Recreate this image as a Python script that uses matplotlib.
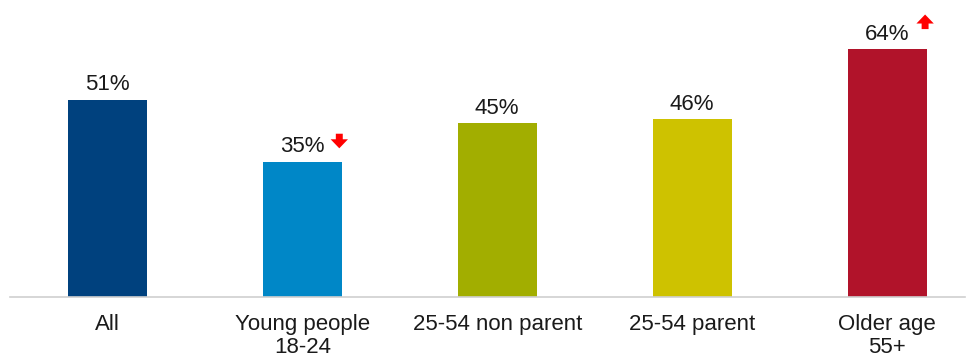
import matplotlib
matplotlib.use("Agg")
from matplotlib import pyplot as plt
from matplotlib import transforms

categories = ["All", "Young people\n18-24", "25-54 non parent", "25-54 parent", "Older age\n55+"]
values = [51, 35, 45, 46, 64]
labels = ["51%", "35%", "45%", "46%", "64%"]
# +1 = significantly higher, -1 = significantly lower, 0 = no change
trend = [0, -1, 0, 0, 1]
colors = ["#00417E", "#0087C7", "#A2AE00", "#CEC200", "#B1132A"]

plt.rcParams['font.family'] = ['Liberation Sans', 'DejaVu Sans']

fig = plt.figure(figsize=(9.7, 3.59), dpi=100)
ax = fig.add_axes([10 / 970, 62 / 359, 955 / 970, 271 / 359])

x = list(range(len(categories)))
ax.bar(x, values, width=0.405, color=colors, zorder=2)

for i, v in enumerate(values):
	ax.annotate(labels[i], xy=(i, v), xytext=(0, 3), textcoords='offset points',
		ha='center', va='bottom', fontsize=16, color='#1a1a1a')
	if trend[i] != 0:
		if trend[i] < 0:
			tail, head = 20, 9.5
			dx = 26.6
		else:
			tail, head = 14.5, 25
			dx = 27.4
		t_tail = transforms.offset_copy(ax.transData, fig=fig, x=dx, y=tail, units='points')
		t_head = transforms.offset_copy(ax.transData, fig=fig, x=dx, y=head, units='points')
		ax.annotate('', xy=(i, v), xycoords=t_head, xytext=(i, v), textcoords=t_tail,
			arrowprops=dict(arrowstyle='simple,head_length=0.65,head_width=1.25,tail_width=0.5',
				mutation_scale=10, color='#FF0000', lw=0, shrinkA=0, shrinkB=0))

ax.set_xlim(-0.5, 4.4)
ax.set_ylim(0, 70)
ax.set_xticks(x)
ax.set_xticklabels(categories, fontsize=16, color='#1a1a1a', linespacing=1.12)
ax.tick_params(axis='x', length=0, pad=12.5)
ax.set_yticks([])
for s in ['top', 'right', 'left']:
	ax.spines[s].set_visible(False)
ax.spines['bottom'].set_color('#D0D0D0')
ax.spines['bottom'].set_linewidth(1.2)

plt.savefig('out.png', dpi=100)
